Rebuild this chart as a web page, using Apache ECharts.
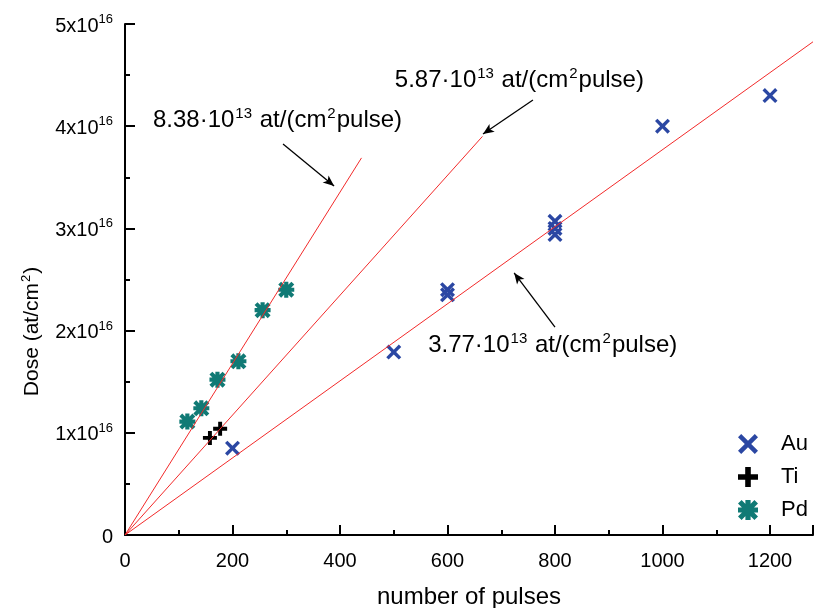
<!DOCTYPE html>
<html><head><meta charset="utf-8">
<script src="https://cdn.jsdelivr.net/npm/echarts@6/dist/echarts.min.js"></script>
<style>html,body{margin:0;padding:0;background:#fff}#c{width:814px;height:608px}</style>
</head><body><div id="c"></div>
<script>
// ---- data ----
const auX = [200, 500, 600, 600, 800, 800, 800, 1000, 1200];
const auY = [0.85e16, 1.79e16, 2.40e16, 2.35e16, 3.07e16, 3.00e16, 2.94e16, 4.00e16, 4.30e16];
const tiX = [158, 177];
const tiY = [0.95e16, 1.04e16];
const pdX = [116, 142, 172, 211, 256, 300];
const pdY = [1.11e16, 1.24e16, 1.52e16, 1.70e16, 2.20e16, 2.40e16];
const fitEndX = [440, 665, 1280];
const fitEndY = [3.69e16, 3.90e16, 4.826e16];
const fitLabels = ['8.38', '5.87', '3.77'];
const labelPos = [[52, 4.08e16], [502, 4.47e16], [564, 1.88e16]];
const arrowFrom = [[294, 3.826e16], [759, 4.256e16], [800, 2.035e16]];
const arrowTo = [[389, 3.415e16], [666, 3.924e16], [724, 2.564e16]];
const xTicks = [0, 200, 400, 600, 800, 1000, 1200];
const yTickLabels = ['0', '1x10', '2x10', '3x10', '4x10', '5x10'];

const FONT = 'Liberation Sans, Arial, sans-serif';
const X_PATH = 'path://M1.6,0 L5,3.4 L8.4,0 L10,1.6 L6.6,5 L10,8.4 L8.4,10 L5,6.6 L1.6,10 L0,8.4 L3.4,5 L0,1.6 Z';
const PLUS_PATH = 'path://M3.6,0 H6.4 V3.6 H10 V6.4 H6.4 V10 H3.6 V6.4 H0 V3.6 H3.6 Z';
const STAR_PATH = 'path://M1.8,0 L5,3.2 L8.2,0 L10,1.8 L6.8,5 L10,8.2 L8.2,10 L5,6.8 L1.8,10 L0,8.2 L3.2,5 L0,1.8 Z M3.7,0 H6.3 V3.7 H10 V6.3 H6.3 V10 H3.7 V6.3 H0 V3.7 H3.7 Z';

const zip = (xs, ys) => xs.map((x, i) => [x, ys[i]]);

const annRich = {
  n: { fontSize: 24, fontFamily: FONT, color: '#000', verticalAlign: 'bottom', lineHeight: 29 },
  s: { fontSize: 15, fontFamily: FONT, color: '#000', verticalAlign: 'bottom', lineHeight: 29, padding: [0, 1, 11, 1] }
};

const series = [
  { name: 'Au', type: 'scatter', data: zip(auX, auY), symbol: X_PATH, symbolSize: 15,
    itemStyle: { color: '#2B47A3', opacity: 1 }, z: 3 },
  { name: 'Ti', type: 'scatter', data: zip(tiX, tiY), symbol: PLUS_PATH, symbolSize: 14,
    itemStyle: { color: '#000', opacity: 1 }, z: 3 },
  { name: 'Pd', type: 'scatter', data: zip(pdX, pdY), symbol: STAR_PATH, symbolSize: 16,
    itemStyle: { color: '#107A75', opacity: 1 }, z: 3 }
];
fitEndX.forEach((ex, i) => {
  series.push({
    name: 'fit' + i, type: 'line', data: [[0, 0], [ex, fitEndY[i]]], symbol: 'none',
    lineStyle: { color: '#F22A2A', width: 1 }, z: 4, silent: true,
    markPoint: {
      symbol: 'circle', symbolSize: 0, silent: true,
      data: [{ coord: labelPos[i],
        label: { show: true, position: 'right', distance: 0,
          formatter: '{n|' + fitLabels[i] + '·10}{s|13}{n| at/(cm}{s|2}{n|pulse)}', rich: annRich } }]
    },
    markLine: {
      silent: true, symbol: ['none', 'arrow'], symbolSize: [7, 11],
      lineStyle: { color: '#000', width: 1.3, type: 'solid' }, label: { show: false },
      data: [[{ coord: arrowFrom[i] }, { coord: arrowTo[i] }]]
    }
  });
});

const chart = echarts.init(document.getElementById('c'), null, { renderer: 'canvas' });
chart.setOption({
  animation: false,
  backgroundColor: '#fff',
  grid: { left: 125, right: 1, top: 24, bottom: 73, containLabel: false, outerBoundsMode: 'none' },
  legend: {
    data: ['Au', 'Ti', 'Pd'], orient: 'vertical', left: 733, top: 428,
    itemWidth: 20, itemHeight: 20, itemGap: 11, selectedMode: false,
    textStyle: { fontSize: 22, fontFamily: FONT, color: '#000', padding: [0, 0, 0, 18] }
  },
  xAxis: {
    type: 'value', min: 0, max: 1280, interval: 200,
    name: 'number of pulses', nameLocation: 'middle', nameGap: 50,
    nameTextStyle: { fontSize: 24, fontFamily: FONT, color: '#000' },
    axisLine: { show: true, lineStyle: { color: '#000', width: 2 } },
    axisTick: { show: true, inside: true, length: 10, lineStyle: { color: '#000', width: 2 } },
    minorTick: { show: true, splitNumber: 2, length: 5, lineStyle: { color: '#000', width: 2 } },
    splitLine: { show: false },
    axisLabel: { fontSize: 20, fontFamily: FONT, color: '#000', margin: 16,
      formatter: v => (xTicks.indexOf(v) >= 0 ? String(v) : '') }
  },
  yAxis: {
    type: 'value', min: 0, max: 5e16, interval: 1e16,
    name: '{n|Dose (at/cm}{s|2}{n|)}', nameLocation: 'middle', nameGap: 82,
    nameTextStyle: { padding: [0, 104, 0, 0], rich: {
      n: { fontSize: 21, fontFamily: FONT, color: '#000', verticalAlign: 'bottom', lineHeight: 26 },
      s: { fontSize: 13, fontFamily: FONT, color: '#000', verticalAlign: 'bottom', lineHeight: 26, padding: [0, 1, 10, 1] }
    } },
    axisLine: { show: true, lineStyle: { color: '#000', width: 2 } },
    axisTick: { show: true, inside: true, length: 10, lineStyle: { color: '#000', width: 2 } },
    minorTick: { show: true, splitNumber: 2, length: 5, lineStyle: { color: '#000', width: 2 } },
    splitLine: { show: false },
    axisLabel: {
      margin: 12,
      formatter: v => {
        const i = Math.round(v / 1e16);
        if (i === 0) return '{n|0}';
        return '{n|' + yTickLabels[i] + '}{s|16}';
      },
      rich: {
        n: { fontSize: 20, fontFamily: FONT, color: '#000', verticalAlign: 'bottom', lineHeight: 24 },
        s: { fontSize: 13, fontFamily: FONT, color: '#000', verticalAlign: 'bottom', lineHeight: 24, padding: [0, 0, 10, 0] }
      }
    }
  },
  series: series
});
</script></body></html>
